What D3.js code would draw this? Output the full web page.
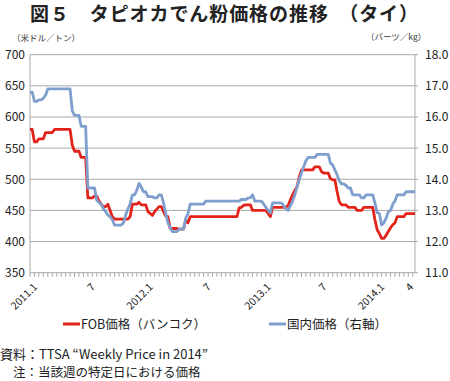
<!DOCTYPE html>
<html>
<head>
<meta charset="utf-8">
<script src="https://cdn.jsdelivr.net/npm/d3@7"></script>
<style>
  body { margin: 0; background: #fff; }
  svg { display: block; font-family: "Noto Sans CJK JP", "Noto Sans", sans-serif; }
</style>
</head>
<body>
<div id="chart"></div>
<script>
// weekly prices, Jan 2011 - Apr 2014
var fobPrice = [
  580,580,560,560,565,565,565,575,575,575,
  575,580,580,580,580,580,580,580,580,555,
  545,545,545,535,535,535,470,470,470,473,
  473,465,460,456,456,460,450,440,436,436,
  436,436,436,436,436,440,460,460,460,463,
  459,459,459,448,445,442,448,452,456,456,
  448,441,440,421,421,421,421,420,420,420,
  435,430,440,440,440,440,440,440,440,440,
  440,440,440,440,440,440,440,440,440,440,
  440,440,440,440,454,455,458,459,459,459,
  450,450,450,450,450,450,450,445,440,455,
  455,455,455,455,455,455,458,467,475,482,
  488,504,515,515,515,515,515,515,520,520,
  520,512,510,510,510,501,499,499,480,464,
  459,459,459,455,455,455,455,450,450,450,
  455,455,455,455,455,435,419,413,405,405,
  410,416,422,427,430,440,440,440,440,445,
  445,445,445,445
];
var domesticPrice = [
  16.8,16.8,16.5,16.5,16.55,16.55,16.6,16.7,16.9,16.9,
  16.9,16.9,16.9,16.9,16.9,16.9,16.9,16.9,16.9,16.2,
  16.05,16.05,16.05,15.7,15.7,15.7,13.72,13.72,13.72,13.72,
  13.33,13.25,13.2,13.05,12.96,12.85,12.8,12.7,12.53,12.53,
  12.53,12.53,12.6,12.85,13.05,13.2,13.5,13.5,13.65,13.87,
  13.75,13.6,13.6,13.44,13.44,13.44,13.4,13.4,13.5,13.5,
  13.24,12.9,12.6,12.45,12.32,12.32,12.32,12.4,12.4,12.4,
  12.75,12.9,13.2,13.2,13.2,13.2,13.2,13.2,13.2,13.3,
  13.3,13.3,13.3,13.3,13.3,13.3,13.3,13.3,13.3,13.3,
  13.3,13.3,13.3,13.3,13.3,13.35,13.35,13.35,13.4,13.4,
  13.5,13.3,13.3,13.3,13.3,13.2,13.1,13.0,12.92,13.24,
  13.24,13.24,13.24,13.24,13.15,13.05,13.0,13.15,13.3,13.5,
  13.76,14.0,14.2,14.4,14.6,14.7,14.7,14.7,14.7,14.8,
  14.8,14.8,14.8,14.8,14.8,14.52,14.46,14.3,14.14,13.95,
  13.85,13.85,13.8,13.72,13.72,13.5,13.5,13.5,13.5,13.4,
  13.4,13.5,13.5,13.5,13.5,13.24,12.93,12.9,12.53,12.6,
  12.75,12.95,13.0,13.2,13.3,13.5,13.5,13.5,13.5,13.6,
  13.6,13.6,13.6,13.6
];
var xLabelIndex = [0, 26, 52, 78, 105, 130, 156, 169];
var xLabelText = ["2011.1", "7", "2012.1", "7", "2013.1", "7", "2014.1", "4"];
var leftTicks = [350, 400, 450, 500, 550, 600, 650, 700];
var rightTicks = [11, 12, 13, 14, 15, 16, 17, 18];

var width = 450, height = 381;
var plotLeft = 30, plotRight = 415, plotTop = 54.7, plotBottom = 272.7;
var red = "#e2231a", blue = "#7e9fcd";

var svg = d3.select("#chart").append("svg")
  .attr("width", width).attr("height", height);

var x = d3.scaleLinear().domain([0, fobPrice.length - 1]).range([plotLeft, plotRight]);
var yL = d3.scaleLinear().domain([350, 700]).range([plotBottom, plotTop]);
var yR = d3.scaleLinear().domain([11, 18]).range([plotBottom, plotTop]);

// title
svg.append("text")
  .attr("x", 30).attr("y", 21)
  .attr("font-size", 19).attr("font-weight", 700).attr("fill", "#222")
  .attr("textLength", 388)
  .text("図５　タピオカでん粉価格の推移　（タイ）");

svg.append("text").attr("x", 12).attr("y", 41)
  .attr("font-size", 8.5).attr("fill", "#333").text("（米ドル／トン）");
svg.append("text").attr("x", 366).attr("y", 40)
  .attr("font-size", 8.5).attr("fill", "#333").text("（バーツ／kg）");

// gridlines
svg.append("g").selectAll("line")
  .data(leftTicks.slice(1))
  .join("line")
  .attr("x1", plotLeft).attr("x2", plotRight + 3)
  .attr("y1", d => yL(d)).attr("y2", d => yL(d))
  .attr("stroke", "#a9a9a9").attr("stroke-width", 1);

// axes frame
svg.append("line").attr("x1", plotLeft).attr("x2", plotLeft)
  .attr("y1", plotTop).attr("y2", plotBottom).attr("stroke", "#a9a9a9");
svg.append("line").attr("x1", plotRight).attr("x2", plotRight)
  .attr("y1", plotTop).attr("y2", plotBottom).attr("stroke", "#a9a9a9");
svg.append("line").attr("x1", plotLeft).attr("x2", plotRight + 3)
  .attr("y1", plotBottom).attr("y2", plotBottom).attr("stroke", "#a9a9a9");

// bottom ticks every two weeks
svg.append("g").selectAll("line")
  .data(d3.range(0, fobPrice.length, 2))
  .join("line")
  .attr("x1", d => x(d)).attr("x2", d => x(d))
  .attr("y1", plotBottom).attr("y2", plotBottom + 4)
  .attr("stroke", "#a9a9a9");

// left tick labels
svg.append("g").selectAll("text")
  .data(leftTicks)
  .join("text")
  .attr("x", 25).attr("y", d => yL(d) + 4.5)
  .attr("text-anchor", "end").attr("font-size", 12).attr("fill", "#222")
  .text(d => d);

// right tick labels
svg.append("g").selectAll("text")
  .data(rightTicks)
  .join("text")
  .attr("x", 425).attr("y", d => yR(d) + 4.5)
  .attr("font-size", 12).attr("fill", "#222")
  .text(d => d3.format(".1f")(d));

// x labels
svg.append("g").selectAll("text")
  .data(xLabelIndex)
  .join("text")
  .attr("transform", d => "translate(" + (x(d) + 8) + "," + (plotBottom + 15) + ") rotate(-45)")
  .attr("text-anchor", "end").attr("font-size", 10.5).attr("fill", "#222")
  .text((d, i) => xLabelText[i]);

// lines
var lineL = d3.line().x((d, i) => x(i)).y(d => yL(d));
var lineR = d3.line().x((d, i) => x(i)).y(d => yR(d));

svg.append("path").datum(fobPrice)
  .attr("d", lineL).attr("fill", "none")
  .attr("stroke", red).attr("stroke-width", 2.8).attr("stroke-linejoin", "round");
svg.append("path").datum(domesticPrice)
  .attr("d", lineR).attr("fill", "none")
  .attr("stroke", blue).attr("stroke-width", 2.8).attr("stroke-linejoin", "round");

// legend
var legend = [
  {name: "FOB価格（バンコク）", color: red, x: 63},
  {name: "国内価格（右軸）", color: blue, x: 269}
];
var lg = svg.append("g").selectAll("g").data(legend).join("g")
  .attr("transform", d => "translate(" + d.x + ",324)");
lg.append("line").attr("x1", 0).attr("x2", 17).attr("y1", 0).attr("y2", 0)
  .attr("stroke", d => d.color).attr("stroke-width", 3);
lg.append("text").attr("x", 18).attr("y", 5)
  .attr("font-size", 12.5).attr("fill", "#222")
  .text(d => d.name);

// notes
svg.append("text").attr("x", 0).attr("y", 359)
  .attr("font-size", 13).attr("fill", "#222")
  .text("資料：TTSA “Weekly Price in 2014”");
svg.append("text").attr("x", 13).attr("y", 377)
  .attr("font-size", 12.5).attr("fill", "#222")
  .text("注：当該週の特定日における価格");
</script>
</body>
</html>
